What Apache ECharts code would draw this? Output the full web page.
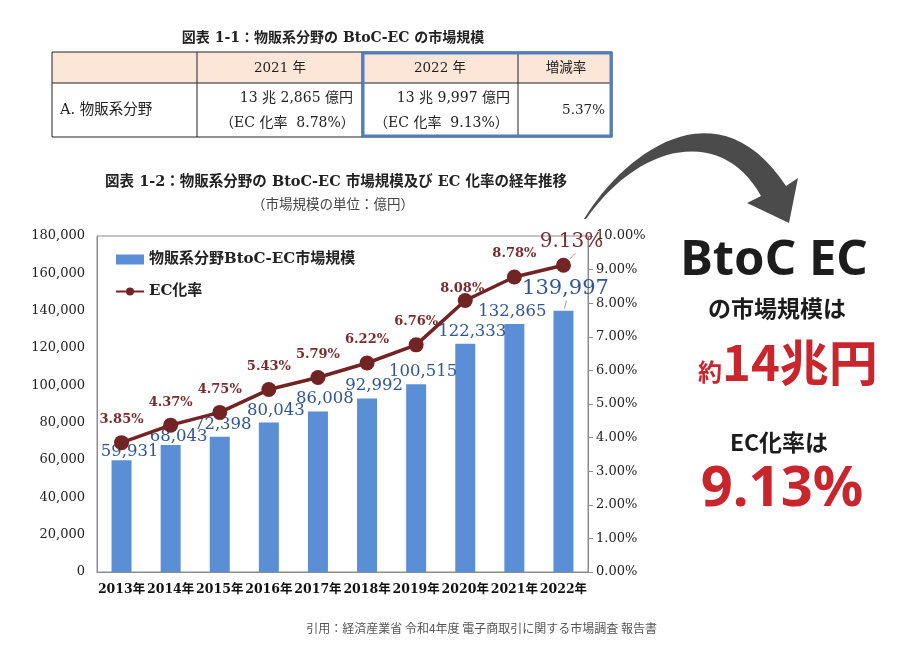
<!DOCTYPE html>
<html><head><meta charset="utf-8">
<script src="https://cdn.jsdelivr.net/npm/echarts@6/dist/echarts.min.js"></script>
<style>html,body{margin:0;padding:0;background:#fff}#c{width:900px;height:650px}</style>
</head><body><div id="c"></div>
<script>
const years = ['2013年','2014年','2015年','2016年','2017年','2018年','2019年','2020年','2021年','2022年'];
const marketSize = [59931, 68043, 72398, 80043, 86008, 92992, 100515, 122333, 132865, 139997];
const ecRate = [3.85, 4.37, 4.75, 5.43, 5.79, 6.22, 6.76, 8.08, 8.78, 9.13];
const seriesNames = ['物販系分野BtoC-EC市場規模', 'EC化率'];
const tableTitle = '図表 1-1：物販系分野の BtoC-EC の市場規模';
const tableHeader = ['2021 年', '2022 年', '増減率'];
const tableRowLabel = 'A. 物販系分野';
const tableAmounts = ['13 兆 2,865 億円', '13 兆 9,997 億円'];
const tableRates = ['（EC 化率  8.78%）', '（EC 化率  9.13%）'];
const tableChange = '5.37%';
const chartTitle = '図表 1-2：物販系分野の BtoC-EC 市場規模及び EC 化率の経年推移';
const chartSubtitle = '（市場規模の単位：億円）';
const sourceText = '引用：経済産業省 令和4年度 電子商取引に関する市場調査 報告書';

const SERIF = '"DejaVu Serif","Noto Sans CJK JP",serif';
const SANS = '"Noto Sans","Noto Sans CJK JP",sans-serif';
const CJK = '"Noto Sans CJK JP",sans-serif';
const BLUE = '#5a8fd6', BLUE_TXT = '#2f5597', RED_LINE = '#722323', RED_TXT = '#7b2b2b', RED = '#c9252d';

function txt(text, x, y, o) {
  o = o || {};
  return { type: 'text', silent: true, z: 10, style: {
    text: text, x: x, y: y, fill: o.fill || '#222',
    fontSize: o.size || 13, fontFamily: o.family || SERIF, fontWeight: o.weight || 'normal',
    align: o.align || 'center', textAlign: o.align || 'center',
    verticalAlign: 'middle', textVerticalAlign: 'middle'
  } };
}
function line(x1, y1, x2, y2, c, w) {
  return { type: 'line', silent: true, z: 9, shape: {x1:x1,y1:y1,x2:x2,y2:y2}, style: {stroke: c || '#222', lineWidth: w || 1} };
}

// decorative arrow polygon
function cubic(p0,p1,p2,p3,t){const u=1-t;return [u*u*u*p0[0]+3*u*u*t*p1[0]+3*u*t*t*p2[0]+t*t*t*p3[0], u*u*u*p0[1]+3*u*u*t*p1[1]+3*u*t*t*p2[1]+t*t*t*p3[1]];}
const arrowPts = [];
for (let i=0;i<=30;i++) arrowPts.push(cubic([584,219],[622,156],[716,80],[786,186],i/30));
arrowPts.push([798,178],[789,223],[747,203]);
for (let i=0;i<=30;i++) arrowPts.push(cubic([761,196],[722,126],[640,142],[586,219],i/30));

const g = [];
// table
const tx = [52,197,362,518,612];
g.push({type:'rect', silent:true, z:8, shape:{x:52,y:52,width:560,height:31}, style:{fill:'#fce6d8'}});
g.push(line(52,52,612,52)); g.push(line(52,83,612,83)); g.push(line(52,137,612,137));
tx.forEach(x => g.push(line(x,52,x,137)));
g.push({type:'rect', silent:true, z:11, shape:{x:363,y:53,width:248,height:83}, style:{fill:'none', stroke:'#4f7fbf', lineWidth:3}});
g.push(txt(tableTitle, 333, 38, {weight:'bold', size:14}));
g.push(txt(tableHeader[0], 280, 68, {size:13.5}));
g.push(txt(tableHeader[1], 440, 68, {size:13.5}));
g.push(txt(tableHeader[2], 566, 68, {size:13.5}));
g.push(txt(tableRowLabel, 60, 110, {align:'left', size:14.5}));
g.push(txt(tableAmounts[0], 353, 98, {align:'right', size:14}));
g.push(txt(tableRates[0], 220, 123, {align:'left', size:14}));
g.push(txt(tableAmounts[1], 510, 98, {align:'right', size:14}));
g.push(txt(tableRates[1], 374, 123, {align:'left', size:14}));
g.push(txt(tableChange, 605, 110, {align:'right', size:13.5}));
// chart titles
g.push(txt(chartTitle, 336, 182, {weight:'bold', size:14.5}));
g.push(txt(chartSubtitle, 333, 205, {size:13.5, fill:'#444'}));
// arrow
g.push({type:'polygon', silent:true, z:5, shape:{points:arrowPts}, style:{fill:'#4b4b4b'}});
// right callout
g.push(txt('BtoC EC', 774, 261, {family:SANS, weight:'bold', size:49, fill:'#1c1c1c'}));
g.push(txt('の市場規模は', 777, 308, {family:CJK, weight:'bold', size:23, fill:'#1c1c1c'}));
g.push(txt('約', 722, 372, {family:CJK, weight:'bold', size:24, fill:RED, align:'right'}));
g.push(txt('14兆円', 722, 362, {family:CJK, weight:'bold', size:49, fill:RED, align:'left'}));
g.push(txt('EC化率は', 779, 442, {family:CJK, weight:'bold', size:23, fill:'#1c1c1c'}));
g.push(txt('9.13%', 782, 490, {family:SANS, weight:'bold', size:56, fill:RED}));
// source
g.push(txt(sourceText, 657, 628, {family:CJK, size:12, fill:'#555', align:'right'}));

const last = marketSize.length - 1;
const barData = marketSize.map((v, i) => {
  let label = {};
  if (i === last) label = { fontSize: 21, offset: [2, -8] };
  else if (i < 2) label = { offset: [8, 4] };
  else if (i === 2) label = { offset: [3, 0] };
  else if (i === 8) label = { offset: [-2, 0] };
  return { value: v, label: label };
});
const lineData = ecRate.map((v, i) => {
  let label = {};
  if (i === last) label = { fontSize: 20, fontWeight: 'normal', offset: [8, 3] };
  else if (i === 7) label = { offset: [-3, 11] };
  return { value: v, label: label };
});

const chart = echarts.init(document.getElementById('c'), null, {renderer: 'canvas'});
chart.setOption({
  animation: false,
  backgroundColor: '#fff',
  textStyle: { fontFamily: SERIF },
  grid: { left: 97, right: 312, top: 236, bottom: 78, show: true, borderColor: '#8c8c8c', borderWidth: 1 },
  legend: {
    orient: 'vertical', left: 110, top: 247, itemGap: 17, itemWidth: 28, itemHeight: 10,
    textStyle: { fontFamily: SERIF, fontSize: 15, color: '#222', fontWeight: 'bold' },
    data: [ { name: seriesNames[0], icon: 'rect' }, { name: seriesNames[1] } ]
  },
  xAxis: {
    type: 'category', data: years,
    axisLine: { lineStyle: { color: '#8c8c8c' } }, axisTick: { show: false },
    axisLabel: { fontFamily: SERIF, fontSize: 12.5, fontWeight: 'bold', color: '#111', margin: 11, interval: 0 }
  },
  yAxis: [
    { type: 'value', min: 0, max: 180000, interval: 20000,
      axisLine: { show: true, lineStyle: { color: '#8c8c8c' } }, axisTick: { show: false }, splitLine: { show: false },
      axisLabel: { fontFamily: SERIF, fontSize: 13, color: '#222', margin: 12,
        formatter: v => v.toLocaleString('en-US') } },
    { type: 'value', min: 0, max: 10, interval: 1, position: 'right',
      axisLine: { show: true, lineStyle: { color: '#8c8c8c' } },
      axisTick: { show: true, length: 5, lineStyle: { color: '#8c8c8c' } }, splitLine: { show: false },
      axisLabel: { fontFamily: SERIF, fontSize: 13, color: '#222', margin: 8,
        formatter: v => v.toFixed(2) + '%' } }
  ],
  series: [
    { name: seriesNames[0], type: 'bar', data: barData, barWidth: 20, itemStyle: { color: BLUE },
      label: { show: true, position: 'top', distance: 4, offset: [7, 0], color: BLUE_TXT, fontFamily: SERIF, fontSize: 16.5,
        formatter: p => p.value.toLocaleString('en-US') } },
    { name: seriesNames[1], type: 'line', yAxisIndex: 1, data: lineData,
      symbol: 'circle', symbolSize: 15, itemStyle: { color: RED_LINE }, lineStyle: { color: RED_LINE, width: 3.5 },
      label: { show: true, position: 'top', distance: 9, color: RED_TXT, fontFamily: SERIF, fontSize: 13, fontWeight: 'bold',
        formatter: p => p.value.toFixed(2) + '%' } }
  ],
  graphic: { elements: g }
});

// short leader lines for the highlighted 2022 labels, placed through the chart's own scales
const pBar = chart.convertToPixel({ seriesIndex: 0 }, [last, marketSize[last]]);
const pLine = chart.convertToPixel({ seriesIndex: 1 }, [last, ecRate[last]]);
chart.setOption({ graphic: { elements: g.concat([
  line(pBar[0] + 1, pBar[1] - 2, pBar[0] + 3, pBar[1] - 10, '#9a9a9a', 1),
  line(pLine[0] + 6, pLine[1] - 6, pLine[0] + 12, pLine[1] - 12, '#9a9a9a', 1)
]) } });
</script></body></html>
